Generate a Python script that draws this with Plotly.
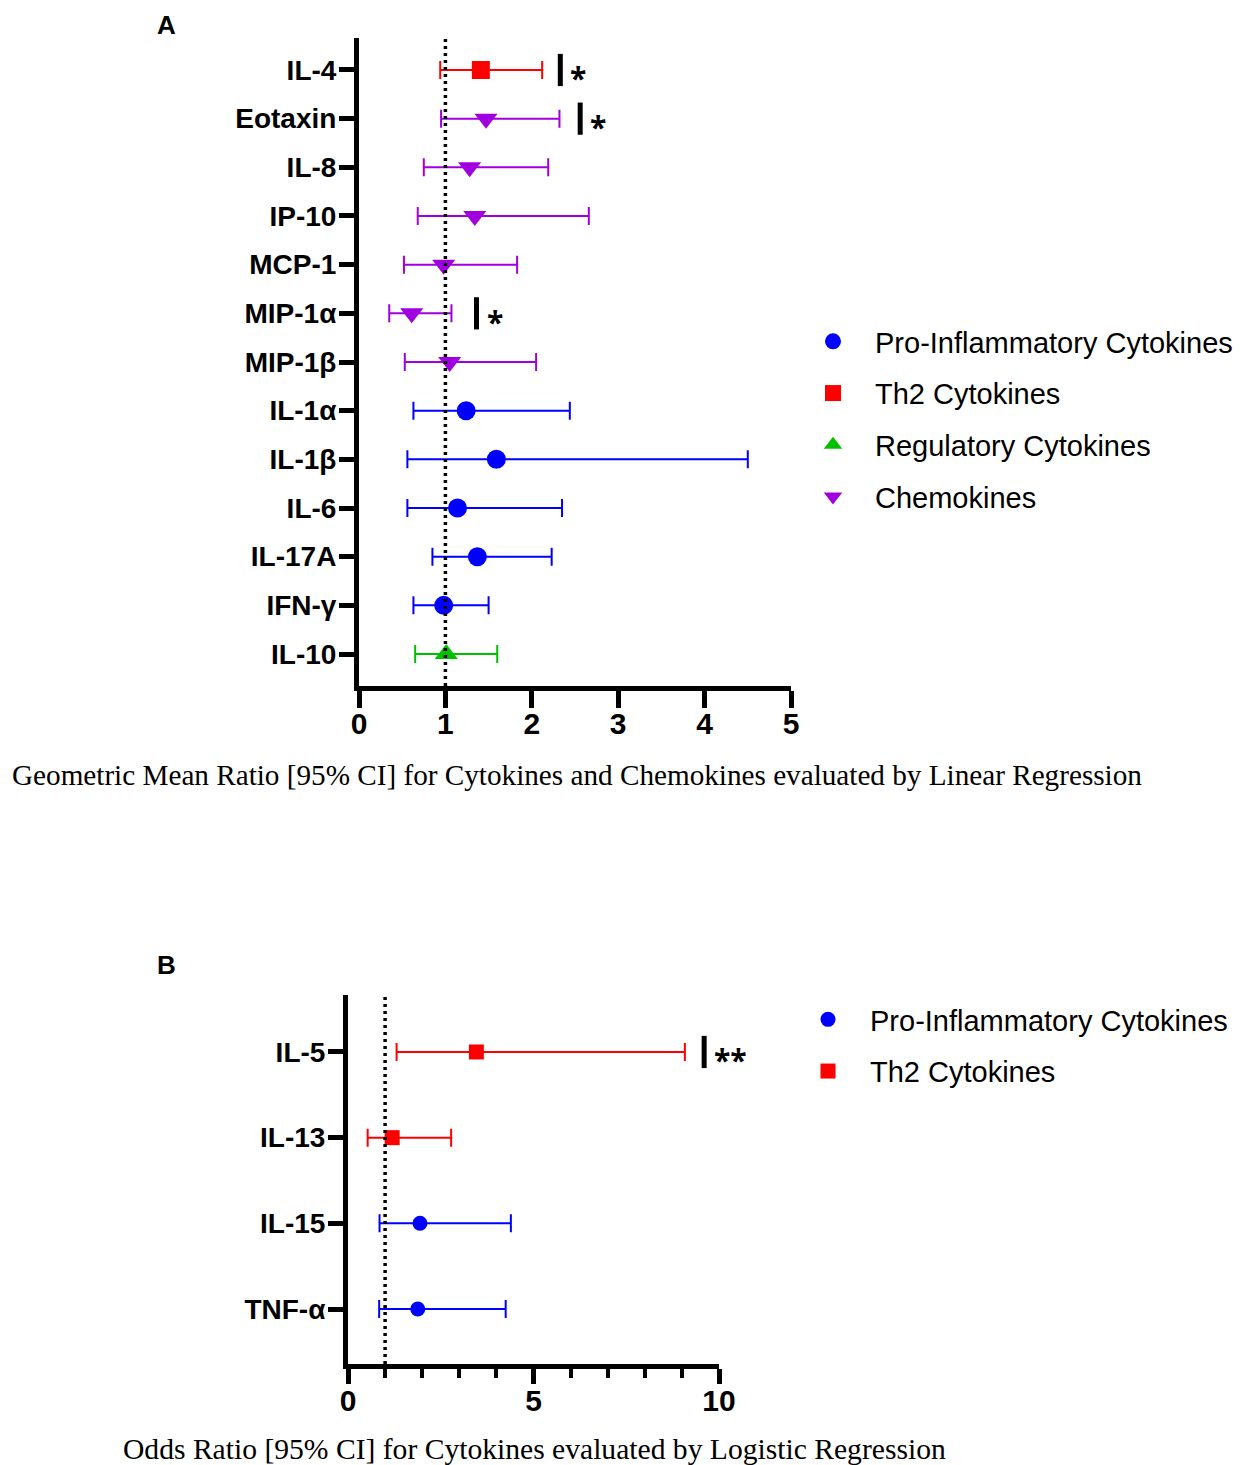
import plotly.graph_objects as go

# Panel A: geometric mean ratio [95% CI], linear regression
cats_a = ["IL-4", "Eotaxin", "IL-8", "IP-10", "MCP-1", "MIP-1α", "MIP-1β",
          "IL-1α", "IL-1β", "IL-6", "IL-17A", "IFN-γ", "IL-10"]

pro_a = ["IL-1α", "IL-1β", "IL-6", "IL-17A", "IFN-γ"]
pro_a_mean = [1.24, 1.59, 1.14, 1.37, 0.98]
pro_a_lo = [0.63, 0.56, 0.56, 0.85, 0.63]
pro_a_hi = [2.44, 4.50, 2.35, 2.23, 1.50]

th2_a = ["IL-4"]
th2_a_mean = [1.41]
th2_a_lo = [0.94]
th2_a_hi = [2.12]

reg_a = ["IL-10"]
reg_a_mean = [1.01]
reg_a_lo = [0.65]
reg_a_hi = [1.60]

chemo_a = ["Eotaxin", "IL-8", "IP-10", "MCP-1", "MIP-1α", "MIP-1β"]
chemo_a_mean = [1.47, 1.28, 1.34, 0.98, 0.61, 1.05]
chemo_a_lo = [0.95, 0.75, 0.68, 0.52, 0.35, 0.53]
chemo_a_hi = [2.32, 2.19, 2.66, 1.83, 1.07, 2.05]

sig_a = ["IL-4", "Eotaxin", "MIP-1α"]
sig_a_x = [2.33, 2.56, 1.36]
sig_a_text = ["*", "*", "*"]

# Panel B: odds ratio [95% CI], logistic regression
cats_b = ["IL-5", "IL-13", "IL-15", "TNF-α"]

pro_b = ["IL-15", "TNF-α"]
pro_b_mean = [1.94, 1.88]
pro_b_lo = [0.85, 0.84]
pro_b_hi = [4.39, 4.25]

th2_b = ["IL-5", "IL-13"]
th2_b_mean = [3.46, 1.19]
th2_b_lo = [1.31, 0.53]
th2_b_hi = [9.08, 2.78]

sig_b = ["IL-5"]
sig_b_x = [9.6]
sig_b_text = ["**"]

# page has an 8px body margin, so the figure is a bit smaller than the window
OFF = 8
W, H = 1243 - OFF, 1465 - OFF
BLUE, RED, GREEN, PURPLE = "#0000ff", "#ff0000", "#00c000", "#a000e0"


def px_x(p):
    return (p - OFF) / W


def px_y(p):
    return 1 - (p - OFF) / H


fig = go.Figure()


def add_group(name, cats, mean, lo, hi, color, symbol, size, xa, ya, legend):
    fig.add_trace(go.Scatter(
        x=mean, y=cats, mode="markers", name=name,
        marker=dict(color=color, symbol=symbol, size=size),
        error_x=dict(type="data", symmetric=False,
                     array=[h - m for h, m in zip(hi, mean)],
                     arrayminus=[m - l for m, l in zip(mean, lo)],
                     color=color, thickness=2, width=9),
        xaxis=xa, yaxis=ya, legend=legend, legendgroup=name + legend,
    ))


add_group("Pro-Inflammatory Cytokines", pro_a, pro_a_mean, pro_a_lo, pro_a_hi,
          BLUE, "circle", 19, "x", "y", "legend")
add_group("Th2 Cytokines", th2_a, th2_a_mean, th2_a_lo, th2_a_hi,
          RED, "square", 18, "x", "y", "legend")
add_group("Regulatory Cytokines", reg_a, reg_a_mean, reg_a_lo, reg_a_hi,
          GREEN, "triangle-up", 20, "x", "y", "legend")
add_group("Chemokines", chemo_a, chemo_a_mean, chemo_a_lo, chemo_a_hi,
          PURPLE, "triangle-down", 20, "x", "y", "legend")

add_group("Pro-Inflammatory Cytokines", pro_b, pro_b_mean, pro_b_lo, pro_b_hi,
          BLUE, "circle", 15, "x2", "y2", "legend2")
add_group("Th2 Cytokines", th2_b, th2_b_mean, th2_b_lo, th2_b_hi,
          RED, "square", 15, "x2", "y2", "legend2")

# significance bars
for sx, sy, xa, ya in [(sig_a_x, sig_a, "x", "y"), (sig_b_x, sig_b, "x2", "y2")]:
    fig.add_trace(go.Scatter(
        x=sx, y=sy, mode="markers", showlegend=False, xaxis=xa, yaxis=ya,
        marker=dict(symbol="line-ns", size=23, line=dict(width=5, color="black")),
    ))

for sx, sy, st, xr, yr in [(sig_a_x, sig_a, sig_a_text, "x", "y"),
                           (sig_b_x, sig_b, sig_b_text, "x2", "y2")]:
    for xv, yv, t in zip(sx, sy, st):
        fig.add_annotation(x=xv, y=yv, xref=xr, yref=yr, text=t, showarrow=False,
                           xanchor="left", xshift=8, yshift=-8,
                           font=dict(size=30, color="black", weight="bold"))

# reference line at 1
for xr, yr in [("x", "y domain"), ("x2", "y2 domain")]:
    fig.add_shape(type="line", x0=1, x1=1, y0=0, y1=1, xref=xr, yref=yr,
                  line=dict(color="black", width=3.5, dash="3px,4px"))

sans = "Liberation Sans, Arial"
axis_common = dict(showline=True, linecolor="black", linewidth=5, ticks="outside",
                   tickcolor="black", tickwidth=5, showgrid=False, zeroline=False,
                   automargin=False)
ytick_font = dict(family=sans, size=28, color="black", weight="bold")
xtick_font = dict(family=sans, size=30, color="black", weight="bold")
legend_font = dict(family=sans, size=29, color="black")

fig.update_layout(
    width=W, height=H, margin=dict(l=0, r=0, t=0, b=0, autoexpand=False),
    plot_bgcolor="white", paper_bgcolor="white",
    xaxis=dict(domain=[px_x(359), px_x(791)], range=[0, 5], tickvals=[0, 1, 2, 3, 4, 5],
               ticklen=17, ticklabelstandoff=-10, tickfont=xtick_font, anchor="y",
               **axis_common),
    yaxis=dict(domain=[px_y(686), px_y(38)], type="category", categoryorder="array",
               categoryarray=cats_a, range=[12.657, -0.657], ticklen=15,
               ticklabelstandoff=-3, tickfont=ytick_font, anchor="x", **axis_common),
    xaxis2=dict(domain=[px_x(348), px_x(719)], range=[0, 10], tickvals=[0, 5, 10],
                ticklen=15, ticklabelstandoff=-9, tickfont=xtick_font, anchor="y2",
                minor=dict(dtick=1, ticklen=9, tickwidth=4, tickcolor="black", ticks="outside"),
                **axis_common),
    yaxis2=dict(domain=[px_y(1364), px_y(995)], type="category", categoryorder="array",
                categoryarray=cats_b, range=[3.642, -0.665], ticklen=15,
                ticklabelstandoff=-3, tickfont=ytick_font, anchor="x2", **axis_common),
    legend=dict(x=px_x(791), y=px_y(316), xanchor="left", yanchor="top",
                font=legend_font, traceorder="grouped", tracegroupgap=11,
                itemwidth=74, bgcolor="rgba(0,0,0,0)"),
    legend2=dict(x=px_x(786), y=px_y(994), xanchor="left", yanchor="top",
                 font=legend_font, traceorder="grouped", tracegroupgap=11,
                 itemwidth=74, bgcolor="rgba(0,0,0,0)"),
    showlegend=True,
)

fig.add_annotation(x=px_x(577), y=px_y(775), xref="paper", yref="paper", showarrow=False,
                   text="Geometric Mean Ratio [95% CI] for Cytokines and Chemokines evaluated by Linear Regression",
                   font=dict(family="Liberation Serif, Times New Roman", size=29.2, color="black"),
                   xanchor="center", yanchor="middle")
fig.add_annotation(x=px_x(534), y=px_y(1449), xref="paper", yref="paper", showarrow=False,
                   text="Odds Ratio [95% CI] for Cytokines evaluated by Logistic Regression",
                   font=dict(family="Liberation Serif, Times New Roman", size=29.6, color="black"),
                   xanchor="center", yanchor="middle")

panel = dict(family=sans, size=26, color="black", weight="bold")
fig.add_annotation(x=px_x(166), y=1, xref="paper", yref="paper", showarrow=False,
                   text="A", font=panel, xanchor="center", yanchor="top")
fig.add_annotation(x=px_x(166), y=px_y(965), xref="paper", yref="paper", showarrow=False,
                   text="B", font=panel, xanchor="center", yanchor="middle")

fig.write_html("out.html")
